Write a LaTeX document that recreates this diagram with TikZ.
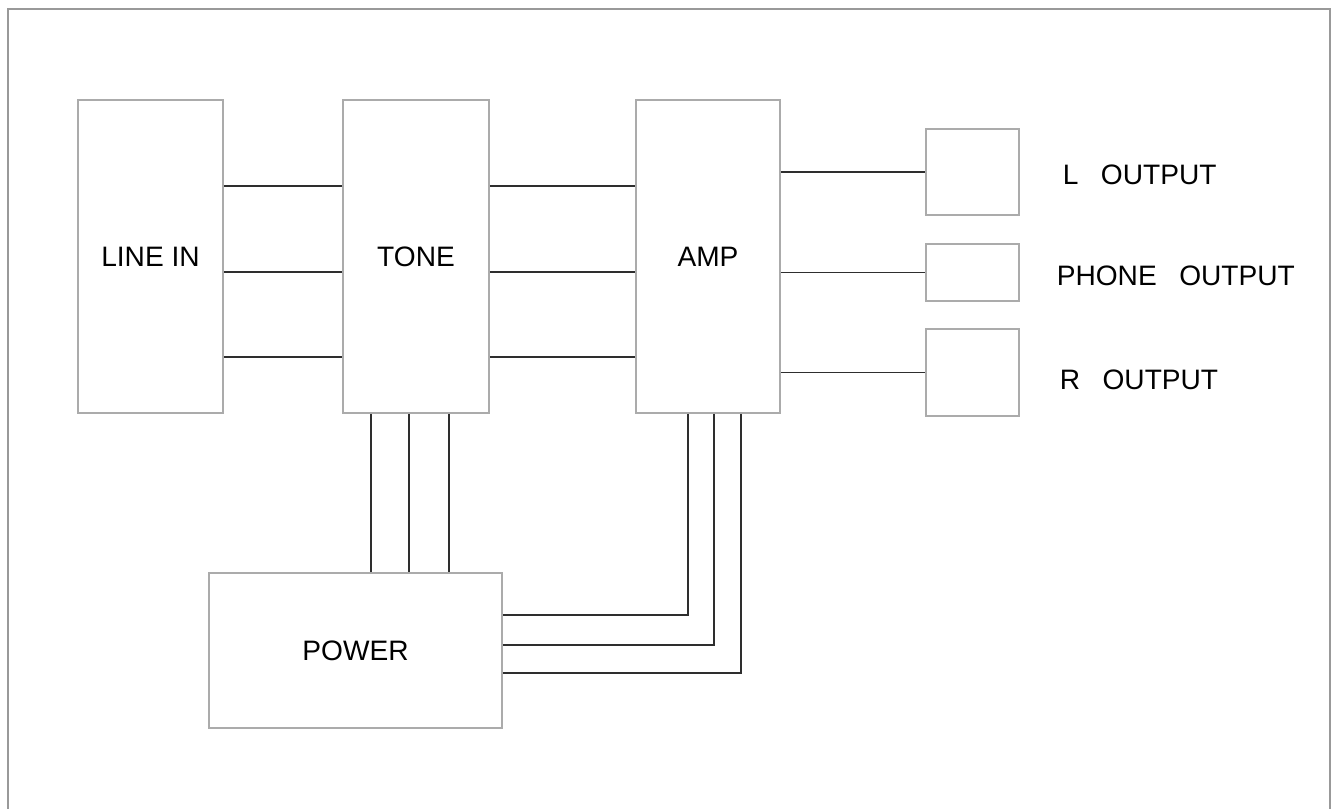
\documentclass[tikz,border=0pt]{standalone}
\usepackage{fontspec}
\setmainfont{Liberation Sans}
\usetikzlibrary{positioning, calc}
\definecolor{cframe}{HTML}{999999}
\definecolor{cbox}{HTML}{ABABAB}
\definecolor{cwire}{HTML}{2E2E2E}
\tikzset{
  every picture/.style={line width=0.9pt},
  block/.style={draw=cbox, fill=white, inner sep=0pt, align=center, font=\fontsize{16}{19}\selectfont},
  wire/.style={draw=cwire, line width=0.9pt},
  outlabel/.style={anchor=west, inner sep=0pt, font=\fontsize{16}{19}\selectfont},
}
\newcommand{\gap}{\hspace{0.8em}}
\begin{document}
\begin{tikzpicture}[x=0.02cm, y=-0.02cm]
  \useasboundingbox (0,0) rectangle (1338,808);
  \draw[cframe] (8,820) -- (8,9) -- (1330,9) -- (1330,820);
  % main blocks
  \node[block, minimum width=2.9cm, minimum height=6.26cm] (linein) at (150.5,256.5) {LINE IN};
  \node[block, minimum width=2.92cm, minimum height=6.26cm] (tone) at (416,256.5) {TONE};
  \node[block, minimum width=2.88cm, minimum height=6.26cm] (amp) at (708,256.5) {AMP};
  \node[block, minimum width=5.86cm, minimum height=3.1cm] (power) at (355.5,650.5) {POWER};
  % output jacks
  \node[block, minimum width=1.86cm, minimum height=1.72cm] (lout) at (972.5,172) {};
  \node[block, minimum width=1.86cm, minimum height=1.14cm] (phone) at (972.5,272.5) {};
  \node[block, minimum width=1.86cm, minimum height=1.74cm] (rout) at (972.5,372.5) {};
  \node[outlabel] (loutlbl) at (1062,175) {L\gap OUTPUT};
  \node[outlabel] (phonelbl) at (1056,276) {PHONE\gap OUTPUT};
  \node[outlabel] (routlbl) at (1059,380) {R\gap OUTPUT};
  % signal path
  \foreach \y in {186,272,357} {
    \draw[wire] (linein.east |- 0,\y) -- (tone.west |- 0,\y);
    \draw[wire] (tone.east |- 0,\y) -- (amp.west |- 0,\y);
  }
  \draw[wire] (amp.east |- lout.west) -- (lout.west);
  \draw[wire] (amp.east |- phone.west) -- (phone.west);
  \draw[wire] (amp.east |- rout.west) -- (rout.west);
  % supply
  \foreach \x in {371,409,449}
    \draw[wire] (tone.south -| \x,0) -- (power.north -| \x,0);
  \foreach \x/\y in {688/615, 714/645, 741/673}
    \draw[wire] (amp.south -| \x,0) |- (power.east |- 0,\y);
\end{tikzpicture}
\end{document}
